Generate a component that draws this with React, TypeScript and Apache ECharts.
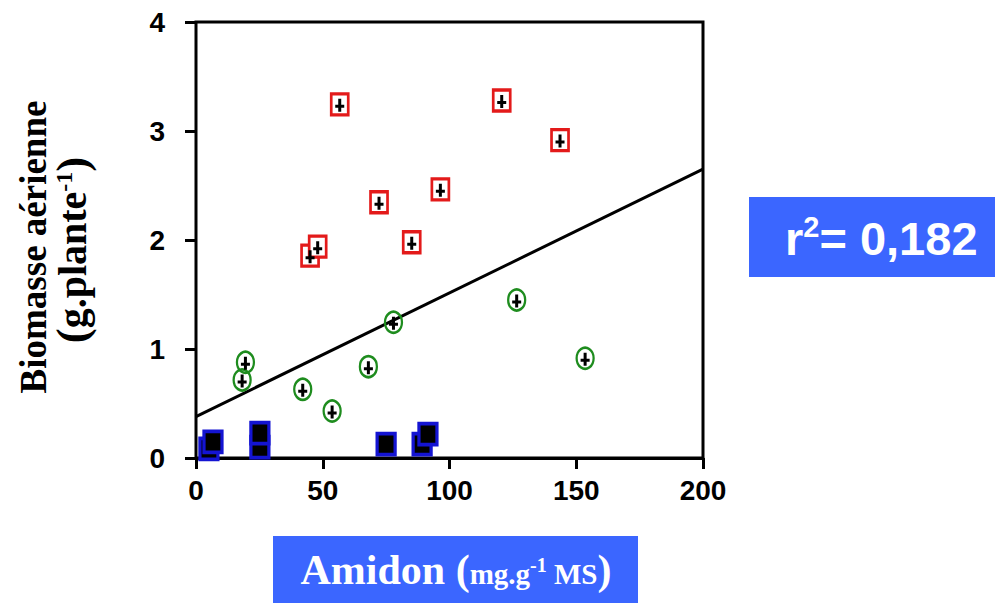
import React, { useEffect, useRef } from 'react';
import * as echarts from 'echarts';

// Axis ticks
const xTicks = [0, 50, 100, 150, 200];
const yTicks = [0, 1, 2, 3, 4];

// Red squares (high biomass)
const highX = [56.7, 120.6, 143.6, 96.4, 72.2, 85.1, 45.0, 48.0];
const highY = [3.245, 3.28, 2.917, 2.465, 2.346, 1.979, 1.856, 1.939];

// Green circles (medium biomass)
const midX = [18.2, 19.5, 42.1, 53.7, 68.0, 77.9, 126.5, 153.5];
const midY = [0.716, 0.878, 0.63, 0.431, 0.838, 1.245, 1.45, 0.915];

// Blue squares (low biomass)
const lowX = [5.1, 6.7, 25.2, 25.2, 75.0, 89.2, 91.5];
const lowY = [0.083, 0.147, 0.1, 0.229, 0.128, 0.128, 0.22];

// Regression line
const fitX = [0, 200];
const fitY = [0.38, 2.65];

const r2Label = '0,182';
const yTitle1 = 'Biomasse aérienne';
const yTitle2 = 'g.plante';
const xTitle = 'Amidon';
const xUnit = 'mg.g';

const BLUE_BOX = '#3B66FF';
const CROSS = 'path://M3,0H6V6H9V9H6V13H3V9H0V6H3Z';

const zip = (xs: number[], ys: number[]) => xs.map((x, i) => [x, ys[i]]);

export default function App() {
  const ref = useRef<HTMLDivElement>(null);

  useEffect(() => {
    if (!ref.current) return;
    const chart = echarts.init(ref.current, null, { renderer: 'svg' });
    const tickFont = {
      fontFamily: 'Liberation Sans, Arial, sans-serif',
      fontWeight: 'bold' as const,
      fontSize: 28,
      color: '#000',
    };
    const serif = 'Liberation Serif, Times New Roman, serif';
    const sans = 'Liberation Sans, Arial, sans-serif';
    chart.setOption({
      animation: false,
      backgroundColor: '#fff',
      grid: {
        left: 196,
        right: 292,
        top: 22,
        bottom: 145,
        show: true,
        borderColor: '#000',
        borderWidth: 3,
        backgroundColor: 'transparent',
      },
      xAxis: {
        type: 'value',
        min: xTicks[0],
        max: xTicks[xTicks.length - 1],
        interval: 50,
        axisLine: { show: true, lineStyle: { color: '#000', width: 3 } },
        axisTick: { show: true, length: 11, lineStyle: { color: '#000', width: 3 } },
        axisLabel: { ...tickFont, margin: 18 },
        splitLine: { show: false },
      },
      yAxis: {
        type: 'value',
        min: yTicks[0],
        max: yTicks[yTicks.length - 1],
        interval: 1,
        offset: 7,
        axisLine: { show: false },
        axisTick: { show: true, length: 11, lineStyle: { color: '#000', width: 3 } },
        axisLabel: { ...tickFont, margin: 24 },
        splitLine: { show: false },
      },
      series: [
        {
          type: 'line',
          data: zip(fitX, fitY),
          symbol: 'none',
          silent: true,
          lineStyle: { color: '#000', width: 3 },
          z: 2,
        },
        {
          type: 'scatter',
          data: zip(lowX, lowY),
          symbol: 'rect',
          symbolSize: [18, 21],
          silent: true,
          itemStyle: { color: '#000', borderColor: '#1414D2', borderWidth: 3.5, opacity: 1 },
          z: 3,
        },
        {
          type: 'scatter',
          data: zip(midX, midY),
          symbol: 'circle',
          symbolSize: [17, 21],
          silent: true,
          itemStyle: { color: 'rgba(0,0,0,0)', borderColor: '#1E8C1E', borderWidth: 2.5, opacity: 1 },
          z: 3,
        },
        {
          type: 'scatter',
          data: zip(highX, highY),
          symbol: 'rect',
          symbolSize: [17, 21],
          silent: true,
          itemStyle: { color: '#fff', borderColor: '#E31A1A', borderWidth: 3, opacity: 1 },
          z: 3,
        },
        {
          type: 'scatter',
          data: [...zip(highX, highY), ...zip(midX, midY)],
          symbol: CROSS,
          symbolSize: [9, 13],
          symbolOffset: [0, 1],
          silent: true,
          itemStyle: { color: '#000', opacity: 1 },
          z: 5,
        },
      ],
      graphic: [
        {
          type: 'text',
          x: 33,
          y: 247,
          rotation: Math.PI / 2,
          style: {
            text: yTitle1,
            font: `bold 37px ${serif}`,
            fill: '#000',
            align: 'center',
            verticalAlign: 'middle',
          },
        },
        {
          type: 'text',
          x: 72,
          y: 250,
          rotation: Math.PI / 2,
          style: {
            text: `{q|(}{a|${yTitle2}}{s|-1}{q|)}`,
            align: 'center',
            verticalAlign: 'middle',
            fill: '#000',
            rich: {
              q: { fontFamily: serif, fontWeight: 'bold', fontSize: 45, fill: '#000', verticalAlign: 'bottom', lineHeight: 45 },
              a: { fontFamily: serif, fontWeight: 'bold', fontSize: 40, fill: '#000', verticalAlign: 'bottom', lineHeight: 40, padding: [0, 0, 2, 0] },
              s: { fontFamily: serif, fontWeight: 'bold', fontSize: 24, fill: '#000', verticalAlign: 'bottom', lineHeight: 24, padding: [0, 0, 19, 0] },
            },
          },
        },
        {
          type: 'rect',
          shape: { x: 273, y: 536, width: 365, height: 67 },
          style: { fill: BLUE_BOX },
        },
        {
          type: 'text',
          x: 456,
          y: 570,
          style: {
            text: `{b|${xTitle} (}{s|${xUnit}}{p|-1}{s| MS}{b|)}`,
            align: 'center',
            verticalAlign: 'middle',
            fill: '#fff',
            rich: {
              b: { fontFamily: serif, fontWeight: 'bold', fontSize: 42, fill: '#fff', verticalAlign: 'bottom', lineHeight: 42 },
              s: { fontFamily: serif, fontWeight: 'bold', fontSize: 29, fill: '#fff', verticalAlign: 'bottom', lineHeight: 29, padding: [0, 0, 3, 0] },
              p: { fontFamily: serif, fontWeight: 'bold', fontSize: 20, fill: '#fff', verticalAlign: 'bottom', lineHeight: 20, padding: [0, 0, 16, 0] },
            },
          },
        },
        {
          type: 'rect',
          shape: { x: 749, y: 197, width: 246, height: 80 },
          style: { fill: BLUE_BOX },
        },
        {
          type: 'text',
          x: 785,
          y: 238,
          style: {
            text: `{m|r}{s|2}{m|= ${r2Label}}`,
            align: 'left',
            verticalAlign: 'middle',
            fill: '#fff',
            rich: {
              m: { fontFamily: sans, fontWeight: 'bold', fontSize: 47, fill: '#fff', verticalAlign: 'bottom', lineHeight: 47 },
              s: { fontFamily: sans, fontWeight: 'bold', fontSize: 29, fill: '#fff', verticalAlign: 'bottom', lineHeight: 29, padding: [0, 0, 20, 0] },
            },
          },
        },
      ],
    });
    return () => chart.dispose();
  }, []);

  return (
    <div
      ref={ref}
      style={{ position: 'fixed', left: 0, top: 0, width: 995, height: 603 }}
    />
  );
}
